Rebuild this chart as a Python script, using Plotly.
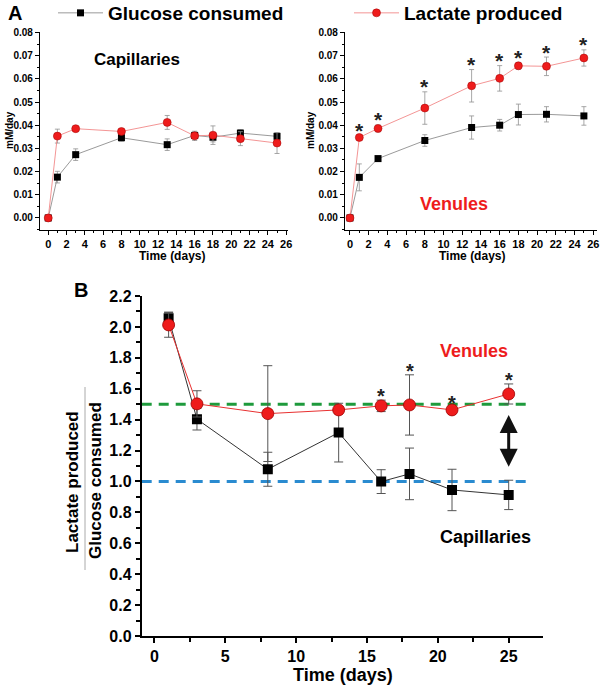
import plotly.graph_objects as go

W, H = 600, 686
FONT = "Liberation Sans, Arial, sans-serif"

# ---------------- data ----------------
days = [0, 1, 3, 8, 13, 16, 18, 21, 25]
cap_glu = [0.0, 0.0176, 0.0273, 0.0346, 0.0316, 0.0356, 0.0348, 0.0366, 0.0352]
cap_glu_err = [0.0, 0.0025, 0.0025, 0.0015, 0.0025, 0.0015, 0.002, 0.0015, 0.0015]
cap_lac = [0.0, 0.0353, 0.0385, 0.0373, 0.0412, 0.0354, 0.0357, 0.0342, 0.0323]
cap_lac_err = [0.0, 0.003, 0.001, 0.001, 0.003, 0.002, 0.004, 0.003, 0.0045]
ven_glu = [0.0, 0.0175, 0.0256, 0.0334, 0.0390, 0.0400, 0.0446, 0.0447, 0.0440]
ven_glu_err = [0.0, 0.0058, 0.0008, 0.0025, 0.005, 0.0025, 0.0045, 0.0033, 0.004]
ven_lac = [0.0, 0.0347, 0.0386, 0.0474, 0.0570, 0.0602, 0.0656, 0.0654, 0.0690]
ven_lac_err = [0.0, 0.001, 0.0015, 0.007, 0.007, 0.0055, 0.0015, 0.004, 0.0035]
ven_sig_days = [1, 3, 8, 13, 16, 18, 21, 25]

ratio_days = [1, 3, 8, 13, 16, 18, 21, 25]
ratio_ven = [2.013, 1.502, 1.439, 1.463, 1.489, 1.495, 1.463, 1.566]
ratio_ven_err = [0.08, 0.085, 0.31, 0.02, 0.037, 0.195, 0.02, 0.065]
ratio_cap = [2.056, 1.403, 1.079, 1.316, 0.999, 1.049, 0.945, 0.913]
ratio_cap_err = [0.04, 0.07, 0.11, 0.19, 0.077, 0.167, 0.134, 0.095]
ratio_sig_days = [16, 18, 21, 25]

venule_ref = 1.5
capillary_ref = 1.0

RED = "#ee1c1c"
RED_EDGE = "#a00000"


def px_x(p):
    return p / W


def px_y(p):
    return 1 - p / H


fig = go.Figure()

# ---------- Panel A left (capillaries) ----------
fig.add_trace(go.Scatter(
    x=days, y=cap_glu, mode="lines+markers", name="Glucose consumed",
    line=dict(color="#808080", width=0.8),
    marker=dict(symbol="square", size=7, color="black"),
    error_y=dict(type="data", array=cap_glu_err, color="#909090", thickness=0.8, width=2.5),
    xaxis="x", yaxis="y", legend="legend", showlegend=True))
fig.add_trace(go.Scatter(
    x=days, y=cap_lac, mode="lines+markers", name="Lactate produced",
    line=dict(color="#f07a7a", width=0.8),
    marker=dict(symbol="circle", size=8, color=RED, line=dict(color=RED_EDGE, width=0.5)),
    error_y=dict(type="data", array=cap_lac_err, color="#909090", thickness=0.8, width=2.5),
    xaxis="x", yaxis="y", legend="legend2", showlegend=True))

# ---------- Panel A right (venules) ----------
fig.add_trace(go.Scatter(
    x=days, y=ven_glu, mode="lines+markers", name="Glucose consumed",
    line=dict(color="#808080", width=0.8),
    marker=dict(symbol="square", size=7, color="black"),
    error_y=dict(type="data", array=ven_glu_err, color="#909090", thickness=0.8, width=2.5),
    xaxis="x2", yaxis="y2", showlegend=False))
fig.add_trace(go.Scatter(
    x=days, y=ven_lac, mode="lines+markers", name="Lactate produced",
    line=dict(color="#f07a7a", width=0.8),
    marker=dict(symbol="circle", size=8, color=RED, line=dict(color=RED_EDGE, width=0.5)),
    error_y=dict(type="data", array=ven_lac_err, color="#909090", thickness=0.8, width=2.5),
    xaxis="x2", yaxis="y2", showlegend=False))

# ---------- Panel B ----------
fig.add_trace(go.Scatter(
    x=ratio_days, y=ratio_cap, mode="lines+markers", name="Capillaries",
    line=dict(color="#333333", width=1),
    marker=dict(symbol="square", size=10, color="black"),
    error_y=dict(type="data", array=ratio_cap_err, color="#555555", thickness=1, width=4.5),
    xaxis="x3", yaxis="y3", showlegend=False))
fig.add_trace(go.Scatter(
    x=ratio_days, y=ratio_ven, mode="lines+markers", name="Venules",
    line=dict(color="#e83030", width=1),
    marker=dict(symbol="circle", size=12, color=RED, line=dict(color=RED_EDGE, width=0.8)),
    error_y=dict(type="data", array=ratio_ven_err, color="#555555", thickness=1, width=4.5),
    xaxis="x3", yaxis="y3", showlegend=False))

annotations = []
# significance stars
for d, v, e in zip(days, ven_lac, ven_lac_err):
    if d in ven_sig_days:
        annotations.append(dict(x=d, y=v + e, xref="x2", yref="y2", text="*", showarrow=False,
                                yanchor="middle", yshift=5,
                                font=dict(family=FONT, size=21, color="#222222", weight="bold")))
for d, v, e in zip(ratio_days, ratio_ven, ratio_ven_err):
    if d in ratio_sig_days:
        annotations.append(dict(x=d, y=v + e, xref="x3", yref="y3", text="*", showarrow=False,
                                yanchor="middle", yshift=4,
                                font=dict(family=FONT, size=20, color="#222222", weight="bold")))

# double arrow in panel B
annotations.append(dict(x=25, y=1.43, ax=25, ay=1.085, xref="x3", yref="y3", axref="x3", ayref="y3",
                        text="", showarrow=True, arrowhead=2, startarrowhead=2, arrowside="end+start",
                        arrowsize=1.2, startarrowsize=1.2, arrowwidth=3, arrowcolor="#111111",
                        standoff=0, startstandoff=0))


def txt(x, y, s, size, color="black", angle=0):
    annotations.append(dict(x=px_x(x), y=px_y(y), xref="paper", yref="paper", text=s, showarrow=False,
                            xanchor="center", yanchor="middle", textangle=angle,
                            font=dict(family=FONT, size=size, color=color, weight="bold")))


txt(15, 13, "A", 20)
txt(81, 290, "B", 20)
txt(137, 60, "Capillaries", 17)
txt(454, 204, "Venules", 18, RED)
txt(172, 256, "Time (days)", 12)
txt(472, 256, "Time (days)", 12)
txt(10, 130, "mM/day", 10, angle=-90)
txt(311, 130, "mM/day", 10, angle=-90)
txt(474, 351, "Venules", 18, RED)
txt(485, 537, "Capillaries", 18)
txt(343, 675, "Time (days)", 18)
txt(73, 482, "Lactate produced", 17, angle=-90)
txt(95, 481, "Glucose consumed", 17, angle=-90)

shapes = [
    dict(type="line", xref="x3", yref="y3", x0=-0.9, x1=26.6, y0=venule_ref, y1=venule_ref,
         line=dict(color="#1e9a3c", width=3, dash="10px,7px"), layer="below"),
    dict(type="line", xref="x3", yref="y3", x0=-0.9, x1=26.6, y0=capillary_ref, y1=capillary_ref,
         line=dict(color="#2a8bd0", width=3, dash="10px,7px"), layer="below"),
    dict(type="line", xref="paper", yref="paper", x0=px_x(85), x1=px_x(85), y0=px_y(387), y1=px_y(570),
         line=dict(color="#aaaaaa", width=1)),
]

tick_small_y = dict(family=FONT, size=10, color="black", weight="bold")
tick_small_x = dict(family=FONT, size=11, color="black", weight="bold")
tick_big = dict(family=FONT, size=16, color="black", weight="bold")

common_top_x = dict(showline=True, linecolor="black", linewidth=1.3, ticks="outside", ticklen=4,
                    tickwidth=1, tickcolor="black", tick0=0, dtick=2, showgrid=False, zeroline=False,
                    tickfont=tick_small_x, automargin=False,
                    minor=dict(ticks="outside", ticklen=2, dtick=1, tickcolor="black", tickwidth=1))
common_top_y = dict(showline=True, linecolor="black", linewidth=1.3, ticks="outside", ticklen=4,
                    tickwidth=1, tickcolor="black", tick0=0, dtick=0.01, tickformat=".2f",
                    showgrid=False, zeroline=False, tickfont=tick_small_y, automargin=False,
                    range=[-0.0052, 0.0802],
                    minor=dict(ticks="outside", ticklen=2, dtick=0.005, tickcolor="black", tickwidth=1))

fig.update_layout(
    width=W, height=H,
    margin=dict(l=0, r=0, t=0, b=0, autoexpand=False),
    paper_bgcolor="white", plot_bgcolor="white",
    font=dict(family=FONT, color="black"),
    xaxis=dict(domain=[px_x(40), px_x(288)], range=[-0.9, 26.2], anchor="y", **common_top_x),
    yaxis=dict(domain=[px_y(230), px_y(32)], anchor="x", **common_top_y),
    xaxis2=dict(domain=[px_x(345), px_x(597)], range=[-0.53, 26.4], anchor="y2", **common_top_x),
    yaxis2=dict(domain=[px_y(230), px_y(32)], anchor="x2", **common_top_y),
    xaxis3=dict(domain=[px_x(141.7), px_x(542.7)], range=[-0.9, 27.4], anchor="y3",
                showline=True, linecolor="black", linewidth=1.8, ticks="outside", ticklen=5,
                tickwidth=1.5, tickcolor="black", tick0=0, dtick=5, showgrid=False, zeroline=False,
                tickfont=tick_big, automargin=False,
                minor=dict(ticks="outside", ticklen=4, dtick=2.5, tickcolor="black", tickwidth=1.5)),
    yaxis3=dict(domain=[px_y(636), px_y(296)], range=[0, 2.2], anchor="x3",
                showline=True, linecolor="black", linewidth=1.8, ticks="outside", ticklen=5,
                tickwidth=1.5, tickcolor="black", tick0=0, dtick=0.2, tickformat=".1f",
                showgrid=False, zeroline=False, tickfont=tick_big, automargin=False,
                minor=dict(ticks="outside", ticklen=4, dtick=0.1, tickcolor="black", tickwidth=1.5)),
    legend=dict(x=px_x(53), y=px_y(-6), xanchor="left", yanchor="top", bgcolor="rgba(0,0,0,0)",
                itemwidth=45,
                font=dict(family=FONT, size=19, color="black", weight="bold")),
    legend2=dict(x=px_x(349), y=px_y(-6), xanchor="left", yanchor="top", bgcolor="rgba(0,0,0,0)",
                 itemwidth=45,
                 font=dict(family=FONT, size=19, color="black", weight="bold")),
    annotations=annotations,
    shapes=shapes,
)

fig.write_html("out.html",
               config={"displayModeBar": False},
               post_script="document.body.style.margin='0';document.body.style.overflow='hidden';")
